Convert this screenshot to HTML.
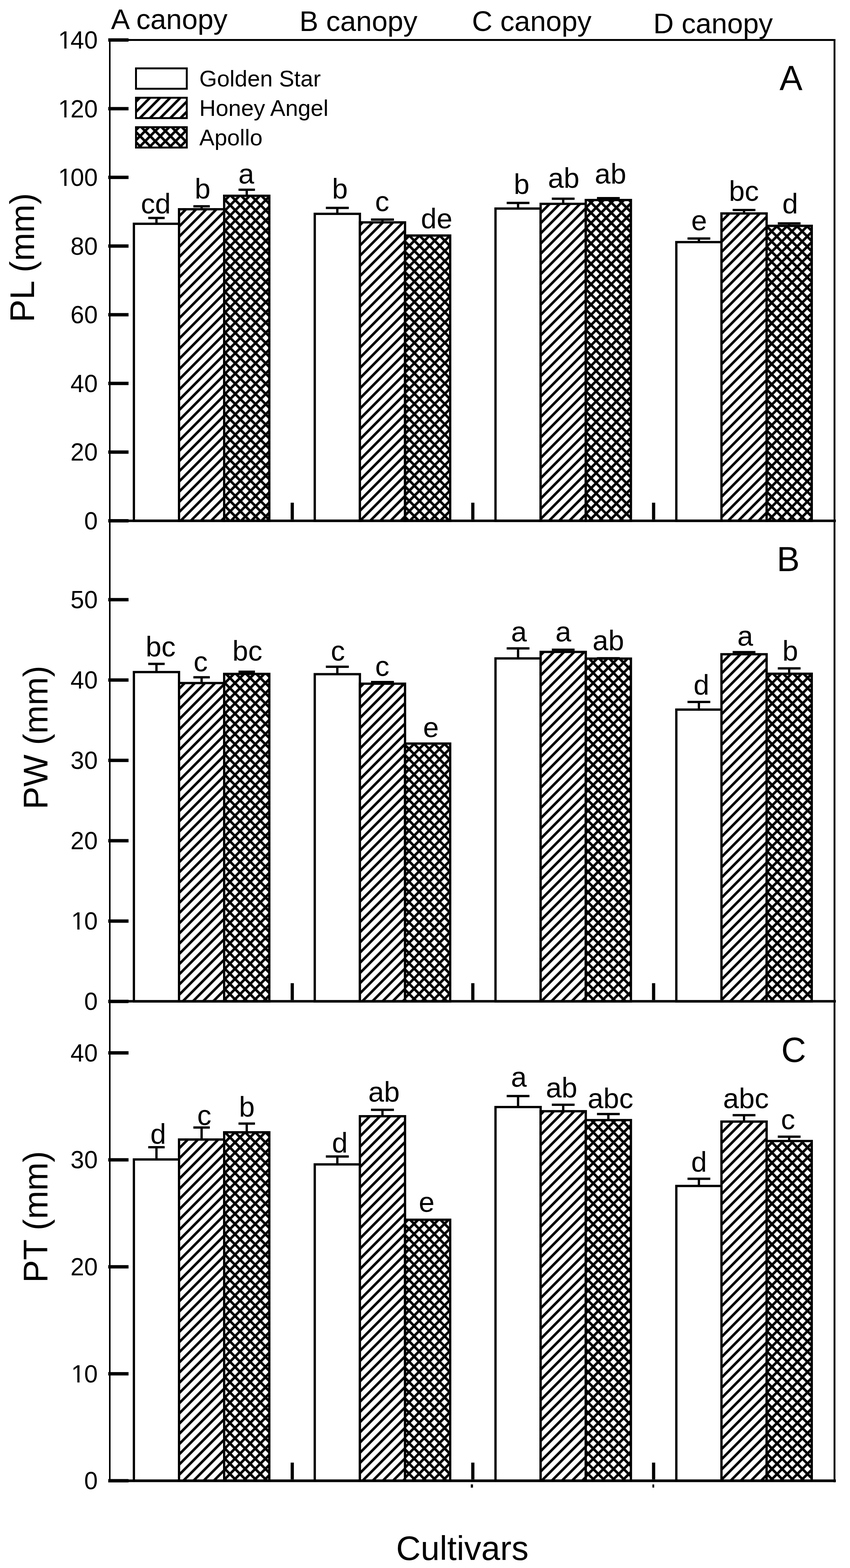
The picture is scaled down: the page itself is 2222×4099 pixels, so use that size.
<!DOCTYPE html>
<html><head><meta charset="utf-8"><title>Bar chart</title>
<style>html,body{margin:0;padding:0;background:#fff}svg{display:block}text{font-family:'Liberation Sans',Arial,sans-serif;fill:#000}</style>
</head><body>
<svg width="2222" height="4099" viewBox="0 0 2222 4099">
<defs>
<pattern id="hA0" patternUnits="userSpaceOnUse" x="22.94" y="0" width="26.5" height="26.67"><path d="M-13.250,13.335L13.250,-13.335M0,26.67L26.5,0M13.250,40.005L39.750,13.335" stroke="#000" stroke-width="6.65" fill="none"/></pattern>
<pattern id="hA1" patternUnits="userSpaceOnUse" x="15.04" y="0" width="26.5" height="26.67"><path d="M-13.250,13.335L13.250,-13.335M0,26.67L26.5,0M13.250,40.005L39.750,13.335" stroke="#000" stroke-width="6.65" fill="none"/></pattern>
<pattern id="hA2" patternUnits="userSpaceOnUse" x="5.54" y="0" width="26.5" height="26.67"><path d="M-13.250,13.335L13.250,-13.335M0,26.67L26.5,0M13.250,40.005L39.750,13.335" stroke="#000" stroke-width="6.65" fill="none"/></pattern>
<pattern id="hA3" patternUnits="userSpaceOnUse" x="23.14" y="0" width="26.5" height="26.67"><path d="M-13.250,13.335L13.250,-13.335M0,26.67L26.5,0M13.250,40.005L39.750,13.335" stroke="#000" stroke-width="6.65" fill="none"/></pattern>
<pattern id="hB0" patternUnits="userSpaceOnUse" x="4.75" y="0" width="26.5" height="26.67"><path d="M-13.250,13.335L13.250,-13.335M0,26.67L26.5,0M13.250,40.005L39.750,13.335" stroke="#000" stroke-width="6.65" fill="none"/></pattern>
<pattern id="hB1" patternUnits="userSpaceOnUse" x="23.35" y="0" width="26.5" height="26.67"><path d="M-13.250,13.335L13.250,-13.335M0,26.67L26.5,0M13.250,40.005L39.750,13.335" stroke="#000" stroke-width="6.65" fill="none"/></pattern>
<pattern id="hB2" patternUnits="userSpaceOnUse" x="14.35" y="0" width="26.5" height="26.67"><path d="M-13.250,13.335L13.250,-13.335M0,26.67L26.5,0M13.250,40.005L39.750,13.335" stroke="#000" stroke-width="6.65" fill="none"/></pattern>
<pattern id="hB3" patternUnits="userSpaceOnUse" x="4.85" y="0" width="26.5" height="26.67"><path d="M-13.250,13.335L13.250,-13.335M0,26.67L26.5,0M13.250,40.005L39.750,13.335" stroke="#000" stroke-width="6.65" fill="none"/></pattern>
<pattern id="hC0" patternUnits="userSpaceOnUse" x="6.03" y="0" width="26.5" height="26.67"><path d="M-13.250,13.335L13.250,-13.335M0,26.67L26.5,0M13.250,40.005L39.750,13.335" stroke="#000" stroke-width="6.65" fill="none"/></pattern>
<pattern id="hC1" patternUnits="userSpaceOnUse" x="23.97" y="0" width="26.5" height="26.67"><path d="M-13.250,13.335L13.250,-13.335M0,26.67L26.5,0M13.250,40.005L39.750,13.335" stroke="#000" stroke-width="6.65" fill="none"/></pattern>
<pattern id="hC2" patternUnits="userSpaceOnUse" x="15.07" y="0" width="26.5" height="26.67"><path d="M-13.250,13.335L13.250,-13.335M0,26.67L26.5,0M13.250,40.005L39.750,13.335" stroke="#000" stroke-width="6.65" fill="none"/></pattern>
<pattern id="hC3" patternUnits="userSpaceOnUse" x="5.57" y="0" width="26.5" height="26.67"><path d="M-13.250,13.335L13.250,-13.335M0,26.67L26.5,0M13.250,40.005L39.750,13.335" stroke="#000" stroke-width="6.65" fill="none"/></pattern>
<pattern id="hL0" patternUnits="userSpaceOnUse" x="9.98" y="0" width="26.5" height="26.67"><path d="M-13.250,13.335L13.250,-13.335M0,26.67L26.5,0M13.250,40.005L39.750,13.335" stroke="#000" stroke-width="6.65" fill="none"/></pattern>
<pattern id="sA0" patternUnits="userSpaceOnUse" x="21.93" y="0" width="26.5" height="26.67"><path d="M-13.250,13.335L13.250,-13.335M0,26.67L26.5,0M13.250,40.005L39.750,13.335" stroke="#000" stroke-width="6.65" fill="none"/></pattern>
<pattern id="bA0" patternUnits="userSpaceOnUse" x="15.77" y="0" width="26.5" height="26.67"><path d="M-13.250,13.335L13.250,40.005M0,0L26.5,26.67M13.250,-13.335L39.750,13.335" stroke="#000" stroke-width="6.65" fill="none"/></pattern>
<pattern id="sA1" patternUnits="userSpaceOnUse" x="12.53" y="0" width="26.5" height="26.67"><path d="M-13.250,13.335L13.250,-13.335M0,26.67L26.5,0M13.250,40.005L39.750,13.335" stroke="#000" stroke-width="6.65" fill="none"/></pattern>
<pattern id="bA1" patternUnits="userSpaceOnUse" x="7.47" y="0" width="26.5" height="26.67"><path d="M-13.250,13.335L13.250,40.005M0,0L26.5,26.67M13.250,-13.335L39.750,13.335" stroke="#000" stroke-width="6.65" fill="none"/></pattern>
<pattern id="sA2" patternUnits="userSpaceOnUse" x="4.28" y="0" width="26.5" height="26.67"><path d="M-13.250,13.335L13.250,-13.335M0,26.67L26.5,0M13.250,40.005L39.750,13.335" stroke="#000" stroke-width="6.65" fill="none"/></pattern>
<pattern id="bA2" patternUnits="userSpaceOnUse" x="11.82" y="0" width="26.5" height="26.67"><path d="M-13.250,13.335L13.250,40.005M0,0L26.5,26.67M13.250,-13.335L39.750,13.335" stroke="#000" stroke-width="6.65" fill="none"/></pattern>
<pattern id="sA3" patternUnits="userSpaceOnUse" x="21.31" y="0" width="26.5" height="26.67"><path d="M-13.250,13.335L13.250,-13.335M0,26.67L26.5,0M13.250,40.005L39.750,13.335" stroke="#000" stroke-width="6.65" fill="none"/></pattern>
<pattern id="bA3" patternUnits="userSpaceOnUse" x="11.89" y="0" width="26.5" height="26.67"><path d="M-13.250,13.335L13.250,40.005M0,0L26.5,26.67M13.250,-13.335L39.750,13.335" stroke="#000" stroke-width="6.65" fill="none"/></pattern>
<pattern id="sB0" patternUnits="userSpaceOnUse" x="3.52" y="0" width="26.5" height="26.67"><path d="M-13.250,13.335L13.250,-13.335M0,26.67L26.5,0M13.250,40.005L39.750,13.335" stroke="#000" stroke-width="6.65" fill="none"/></pattern>
<pattern id="bB0" patternUnits="userSpaceOnUse" x="6.08" y="0" width="26.5" height="26.67"><path d="M-13.250,13.335L13.250,40.005M0,0L26.5,26.67M13.250,-13.335L39.750,13.335" stroke="#000" stroke-width="6.65" fill="none"/></pattern>
<pattern id="sB1" patternUnits="userSpaceOnUse" x="20.27" y="0" width="26.5" height="26.67"><path d="M-13.250,13.335L13.250,-13.335M0,26.67L26.5,0M13.250,40.005L39.750,13.335" stroke="#000" stroke-width="6.65" fill="none"/></pattern>
<pattern id="bB1" patternUnits="userSpaceOnUse" x="24.73" y="0" width="26.5" height="26.67"><path d="M-13.250,13.335L13.250,40.005M0,0L26.5,26.67M13.250,-13.335L39.750,13.335" stroke="#000" stroke-width="6.65" fill="none"/></pattern>
<pattern id="sB2" patternUnits="userSpaceOnUse" x="12.32" y="0" width="26.5" height="26.67"><path d="M-13.250,13.335L13.250,-13.335M0,26.67L26.5,0M13.250,40.005L39.750,13.335" stroke="#000" stroke-width="6.65" fill="none"/></pattern>
<pattern id="bB2" patternUnits="userSpaceOnUse" x="14.88" y="0" width="26.5" height="26.67"><path d="M-13.250,13.335L13.250,40.005M0,0L26.5,26.67M13.250,-13.335L39.750,13.335" stroke="#000" stroke-width="6.65" fill="none"/></pattern>
<pattern id="sB3" patternUnits="userSpaceOnUse" x="3.32" y="0" width="26.5" height="26.67"><path d="M-13.250,13.335L13.250,-13.335M0,26.67L26.5,0M13.250,40.005L39.750,13.335" stroke="#000" stroke-width="6.65" fill="none"/></pattern>
<pattern id="bB3" patternUnits="userSpaceOnUse" x="5.88" y="0" width="26.5" height="26.67"><path d="M-13.250,13.335L13.250,40.005M0,0L26.5,26.67M13.250,-13.335L39.750,13.335" stroke="#000" stroke-width="6.65" fill="none"/></pattern>
<pattern id="sC0" patternUnits="userSpaceOnUse" x="4.21" y="0" width="26.5" height="26.67"><path d="M-13.250,13.335L13.250,-13.335M0,26.67L26.5,0M13.250,40.005L39.750,13.335" stroke="#000" stroke-width="6.65" fill="none"/></pattern>
<pattern id="bC0" patternUnits="userSpaceOnUse" x="5.39" y="0" width="26.5" height="26.67"><path d="M-13.250,13.335L13.250,40.005M0,0L26.5,26.67M13.250,-13.335L39.750,13.335" stroke="#000" stroke-width="6.65" fill="none"/></pattern>
<pattern id="sC1" patternUnits="userSpaceOnUse" x="21.39" y="0" width="26.5" height="26.67"><path d="M-13.250,13.335L13.250,-13.335M0,26.67L26.5,0M13.250,40.005L39.750,13.335" stroke="#000" stroke-width="6.65" fill="none"/></pattern>
<pattern id="bC1" patternUnits="userSpaceOnUse" x="23.61" y="0" width="26.5" height="26.67"><path d="M-13.250,13.335L13.250,40.005M0,0L26.5,26.67M13.250,-13.335L39.750,13.335" stroke="#000" stroke-width="6.65" fill="none"/></pattern>
<pattern id="sC2" patternUnits="userSpaceOnUse" x="13.59" y="0" width="26.5" height="26.67"><path d="M-13.250,13.335L13.250,-13.335M0,26.67L26.5,0M13.250,40.005L39.750,13.335" stroke="#000" stroke-width="6.65" fill="none"/></pattern>
<pattern id="bC2" patternUnits="userSpaceOnUse" x="14.21" y="0" width="26.5" height="26.67"><path d="M-13.250,13.335L13.250,40.005M0,0L26.5,26.67M13.250,-13.335L39.750,13.335" stroke="#000" stroke-width="6.65" fill="none"/></pattern>
<pattern id="sC3" patternUnits="userSpaceOnUse" x="3.59" y="0" width="26.5" height="26.67"><path d="M-13.250,13.335L13.250,-13.335M0,26.67L26.5,0M13.250,40.005L39.750,13.335" stroke="#000" stroke-width="6.65" fill="none"/></pattern>
<pattern id="bC3" patternUnits="userSpaceOnUse" x="4.61" y="0" width="26.5" height="26.67"><path d="M-13.250,13.335L13.250,40.005M0,0L26.5,26.67M13.250,-13.335L39.750,13.335" stroke="#000" stroke-width="6.65" fill="none"/></pattern>
<pattern id="sL0" patternUnits="userSpaceOnUse" x="4.18" y="0" width="26.5" height="26.67"><path d="M-13.250,13.335L13.250,-13.335M0,26.67L26.5,0M13.250,40.005L39.750,13.335" stroke="#000" stroke-width="6.65" fill="none"/></pattern>
<pattern id="bL0" patternUnits="userSpaceOnUse" x="12.62" y="0" width="26.5" height="26.67"><path d="M-13.250,13.335L13.250,40.005M0,0L26.5,26.67M13.250,-13.335L39.750,13.335" stroke="#000" stroke-width="6.65" fill="none"/></pattern>
</defs>
<rect width="2222" height="4099" fill="#fff"/>

<rect x="350.0" y="585" width="118.0" height="776.40" fill="#fff"/>
<rect x="350.0" y="585" width="118.0" height="776.40" fill="none" stroke="#000" stroke-width="6"/>
<path d="M409.0,585V569.7M387.5,569.7H430.5" stroke="#000" stroke-width="6" fill="none"/>
<text x="368.34" y="557.60" font-size="74" text-anchor="start">cd</text>
<rect x="468.0" y="547" width="118.0" height="814.40" fill="#fff"/>
<rect x="468.0" y="547" width="118.0" height="814.40" fill="url(#hA0)"/>
<rect x="468.0" y="547" width="118.0" height="814.40" fill="none" stroke="#000" stroke-width="6"/>
<path d="M527.0,547V539.2M505.5,539.2H548.5" stroke="#000" stroke-width="6" fill="none"/>
<text x="509.09" y="519.00" font-size="74" text-anchor="start">b</text>
<rect x="586.0" y="511.8" width="118.0" height="849.60" fill="#fff"/>
<rect x="586.0" y="511.8" width="118.0" height="849.60" fill="url(#sA0)"/>
<rect x="586.0" y="511.8" width="118.0" height="849.60" fill="url(#bA0)"/>
<rect x="586.0" y="511.8" width="118.0" height="849.60" fill="none" stroke="#000" stroke-width="6"/>
<path d="M645.0,511.8V496.1M623.5,496.1H666.5" stroke="#000" stroke-width="6" fill="none"/>
<text x="623.15" y="479.50" font-size="74" text-anchor="start">a</text>
<rect x="822.8" y="559" width="118.0" height="802.40" fill="#fff"/>
<rect x="822.8" y="559" width="118.0" height="802.40" fill="none" stroke="#000" stroke-width="6"/>
<path d="M881.8,559V543.5M851.8,543.5H911.8" stroke="#000" stroke-width="6" fill="none"/>
<text x="868.09" y="518.80" font-size="74" text-anchor="start">b</text>
<rect x="940.8" y="581.3" width="118.0" height="780.10" fill="#fff"/>
<rect x="940.8" y="581.3" width="118.0" height="780.10" fill="url(#hA1)"/>
<rect x="940.8" y="581.3" width="118.0" height="780.10" fill="none" stroke="#000" stroke-width="6"/>
<path d="M999.8,581.3V574M969.8,574H1029.8" stroke="#000" stroke-width="6" fill="none"/>
<text x="980.60" y="551.50" font-size="74" text-anchor="start">c</text>
<rect x="1058.8" y="615.7" width="118.0" height="745.70" fill="#fff"/>
<rect x="1058.8" y="615.7" width="118.0" height="745.70" fill="url(#sA1)"/>
<rect x="1058.8" y="615.7" width="118.0" height="745.70" fill="url(#bA1)"/>
<rect x="1058.8" y="615.7" width="118.0" height="745.70" fill="none" stroke="#000" stroke-width="6"/>
<text x="1100.24" y="597.00" font-size="74" text-anchor="start">de</text>
<rect x="1295.3" y="545.2" width="118.0" height="816.20" fill="#fff"/>
<rect x="1295.3" y="545.2" width="118.0" height="816.20" fill="none" stroke="#000" stroke-width="6"/>
<path d="M1354.3,545.2V530.6M1324.55,530.6H1384.05" stroke="#000" stroke-width="6" fill="none"/>
<text x="1342.89" y="507.40" font-size="74" text-anchor="start">b</text>
<rect x="1413.3" y="532.9" width="118.0" height="828.50" fill="#fff"/>
<rect x="1413.3" y="532.9" width="118.0" height="828.50" fill="url(#hA2)"/>
<rect x="1413.3" y="532.9" width="118.0" height="828.50" fill="none" stroke="#000" stroke-width="6"/>
<path d="M1472.3,532.9V519.5M1442.55,519.5H1502.05" stroke="#000" stroke-width="6" fill="none"/>
<text x="1432.38" y="491.10" font-size="74" text-anchor="start">ab</text>
<rect x="1531.3" y="522.9" width="118.0" height="838.50" fill="#fff"/>
<rect x="1531.3" y="522.9" width="118.0" height="838.50" fill="url(#sA2)"/>
<rect x="1531.3" y="522.9" width="118.0" height="838.50" fill="url(#bA2)"/>
<rect x="1531.3" y="522.9" width="118.0" height="838.50" fill="none" stroke="#000" stroke-width="6"/>
<path d="M1590.3,522.9V518M1560.55,518H1620.05" stroke="#000" stroke-width="6" fill="none"/>
<text x="1554.78" y="480.20" font-size="74" text-anchor="start">ab</text>
<rect x="1768.0" y="632.9" width="118.0" height="728.50" fill="#fff"/>
<rect x="1768.0" y="632.9" width="118.0" height="728.50" fill="none" stroke="#000" stroke-width="6"/>
<path d="M1827.0,632.9V623.4M1797.25,623.4H1856.75" stroke="#000" stroke-width="6" fill="none"/>
<text x="1806.89" y="601.50" font-size="74" text-anchor="start">e</text>
<rect x="1886.0" y="558" width="118.0" height="803.40" fill="#fff"/>
<rect x="1886.0" y="558" width="118.0" height="803.40" fill="url(#hA3)"/>
<rect x="1886.0" y="558" width="118.0" height="803.40" fill="none" stroke="#000" stroke-width="6"/>
<path d="M1945.0,558V548.9M1915.25,548.9H1974.75" stroke="#000" stroke-width="6" fill="none"/>
<text x="1905.51" y="524.50" font-size="74" text-anchor="start">bc</text>
<rect x="2004.0" y="590.4" width="118.0" height="771.00" fill="#fff"/>
<rect x="2004.0" y="590.4" width="118.0" height="771.00" fill="url(#sA3)"/>
<rect x="2004.0" y="590.4" width="118.0" height="771.00" fill="url(#bA3)"/>
<rect x="2004.0" y="590.4" width="118.0" height="771.00" fill="none" stroke="#000" stroke-width="6"/>
<path d="M2063.0,590.4V583.9M2033.25,583.9H2092.75" stroke="#000" stroke-width="6" fill="none"/>
<text x="2045.00" y="558.00" font-size="74" text-anchor="start">d</text>
<rect x="350.0" y="1756.9" width="118.0" height="861.00" fill="#fff"/>
<rect x="350.0" y="1756.9" width="118.0" height="861.00" fill="none" stroke="#000" stroke-width="6"/>
<path d="M409.0,1756.9V1735.6M387.5,1735.6H430.5" stroke="#000" stroke-width="6" fill="none"/>
<text x="380.76" y="1715.90" font-size="74" text-anchor="start">bc</text>
<rect x="468.0" y="1785.6" width="118.0" height="832.30" fill="#fff"/>
<rect x="468.0" y="1785.6" width="118.0" height="832.30" fill="url(#hB0)"/>
<rect x="468.0" y="1785.6" width="118.0" height="832.30" fill="none" stroke="#000" stroke-width="6"/>
<path d="M527.0,1785.6V1770.4M505.5,1770.4H548.5" stroke="#000" stroke-width="6" fill="none"/>
<text x="506.00" y="1755.00" font-size="74" text-anchor="start">c</text>
<rect x="586.0" y="1761.7" width="118.0" height="856.20" fill="#fff"/>
<rect x="586.0" y="1761.7" width="118.0" height="856.20" fill="url(#sB0)"/>
<rect x="586.0" y="1761.7" width="118.0" height="856.20" fill="url(#bB0)"/>
<rect x="586.0" y="1761.7" width="118.0" height="856.20" fill="none" stroke="#000" stroke-width="6"/>
<path d="M645.0,1761.7V1756M623.5,1756H666.5" stroke="#000" stroke-width="6" fill="none"/>
<text x="607.56" y="1726.50" font-size="74" text-anchor="start">bc</text>
<rect x="822.8" y="1762.4" width="118.0" height="855.50" fill="#fff"/>
<rect x="822.8" y="1762.4" width="118.0" height="855.50" fill="none" stroke="#000" stroke-width="6"/>
<path d="M881.8,1762.4V1742.9M851.8,1742.9H911.8" stroke="#000" stroke-width="6" fill="none"/>
<text x="864.75" y="1726.50" font-size="74" text-anchor="start">c</text>
<rect x="940.8" y="1787.3" width="118.0" height="830.60" fill="#fff"/>
<rect x="940.8" y="1787.3" width="118.0" height="830.60" fill="url(#hB1)"/>
<rect x="940.8" y="1787.3" width="118.0" height="830.60" fill="none" stroke="#000" stroke-width="6"/>
<path d="M999.8,1787.3V1783M969.8,1783H1029.8" stroke="#000" stroke-width="6" fill="none"/>
<text x="980.75" y="1767.20" font-size="74" text-anchor="start">c</text>
<rect x="1058.8" y="1943.8" width="118.0" height="674.10" fill="#fff"/>
<rect x="1058.8" y="1943.8" width="118.0" height="674.10" fill="url(#sB1)"/>
<rect x="1058.8" y="1943.8" width="118.0" height="674.10" fill="url(#bB1)"/>
<rect x="1058.8" y="1943.8" width="118.0" height="674.10" fill="none" stroke="#000" stroke-width="6"/>
<text x="1106.09" y="1927.00" font-size="74" text-anchor="start">e</text>
<rect x="1295.3" y="1721.2" width="118.0" height="896.70" fill="#fff"/>
<rect x="1295.3" y="1721.2" width="118.0" height="896.70" fill="none" stroke="#000" stroke-width="6"/>
<path d="M1354.3,1721.2V1695M1324.55,1695H1384.05" stroke="#000" stroke-width="6" fill="none"/>
<text x="1335.95" y="1676.50" font-size="74" text-anchor="start">a</text>
<rect x="1413.3" y="1704.2" width="118.0" height="913.70" fill="#fff"/>
<rect x="1413.3" y="1704.2" width="118.0" height="913.70" fill="url(#hB2)"/>
<rect x="1413.3" y="1704.2" width="118.0" height="913.70" fill="none" stroke="#000" stroke-width="6"/>
<path d="M1472.3,1704.2V1698.5M1442.55,1698.5H1502.05" stroke="#000" stroke-width="6" fill="none"/>
<text x="1452.00" y="1676.50" font-size="74" text-anchor="start">a</text>
<rect x="1531.3" y="1721.7" width="118.0" height="896.20" fill="#fff"/>
<rect x="1531.3" y="1721.7" width="118.0" height="896.20" fill="url(#sB2)"/>
<rect x="1531.3" y="1721.7" width="118.0" height="896.20" fill="url(#bB2)"/>
<rect x="1531.3" y="1721.7" width="118.0" height="896.20" fill="none" stroke="#000" stroke-width="6"/>
<path d="M1590.3,1721.7V1720.7M1560.55,1720.7H1620.05" stroke="#000" stroke-width="6" fill="none"/>
<text x="1549.03" y="1700.20" font-size="74" text-anchor="start">ab</text>
<rect x="1768.0" y="1855" width="118.0" height="762.90" fill="#fff"/>
<rect x="1768.0" y="1855" width="118.0" height="762.90" fill="none" stroke="#000" stroke-width="6"/>
<path d="M1827.0,1855V1834.9M1797.25,1834.9H1856.75" stroke="#000" stroke-width="6" fill="none"/>
<text x="1812.95" y="1816.30" font-size="74" text-anchor="start">d</text>
<rect x="1886.0" y="1710.3" width="118.0" height="907.60" fill="#fff"/>
<rect x="1886.0" y="1710.3" width="118.0" height="907.60" fill="url(#hB3)"/>
<rect x="1886.0" y="1710.3" width="118.0" height="907.60" fill="none" stroke="#000" stroke-width="6"/>
<path d="M1945.0,1710.3V1704.8M1915.25,1704.8H1974.75" stroke="#000" stroke-width="6" fill="none"/>
<text x="1927.45" y="1688.00" font-size="74" text-anchor="start">a</text>
<rect x="2004.0" y="1761.3" width="118.0" height="856.60" fill="#fff"/>
<rect x="2004.0" y="1761.3" width="118.0" height="856.60" fill="url(#sB3)"/>
<rect x="2004.0" y="1761.3" width="118.0" height="856.60" fill="url(#bB3)"/>
<rect x="2004.0" y="1761.3" width="118.0" height="856.60" fill="none" stroke="#000" stroke-width="6"/>
<path d="M2063.0,1761.3V1747.3M2033.25,1747.3H2092.75" stroke="#000" stroke-width="6" fill="none"/>
<text x="2045.24" y="1726.60" font-size="74" text-anchor="start">b</text>
<rect x="350.0" y="3031" width="118.0" height="839.90" fill="#fff"/>
<rect x="350.0" y="3031" width="118.0" height="839.90" fill="none" stroke="#000" stroke-width="6"/>
<path d="M409.0,3031V2999.1M387.5,2999.1H430.5" stroke="#000" stroke-width="6" fill="none"/>
<text x="392.90" y="2990.30" font-size="74" text-anchor="start">d</text>
<rect x="468.0" y="2978.9" width="118.0" height="892.00" fill="#fff"/>
<rect x="468.0" y="2978.9" width="118.0" height="892.00" fill="url(#hC0)"/>
<rect x="468.0" y="2978.9" width="118.0" height="892.00" fill="none" stroke="#000" stroke-width="6"/>
<path d="M527.0,2978.9V2947.4M505.5,2947.4H548.5" stroke="#000" stroke-width="6" fill="none"/>
<text x="515.50" y="2940.80" font-size="74" text-anchor="start">c</text>
<rect x="586.0" y="2960" width="118.0" height="910.90" fill="#fff"/>
<rect x="586.0" y="2960" width="118.0" height="910.90" fill="url(#sC0)"/>
<rect x="586.0" y="2960" width="118.0" height="910.90" fill="url(#bC0)"/>
<rect x="586.0" y="2960" width="118.0" height="910.90" fill="none" stroke="#000" stroke-width="6"/>
<path d="M645.0,2960V2937.3M623.5,2937.3H666.5" stroke="#000" stroke-width="6" fill="none"/>
<text x="624.64" y="2919.00" font-size="74" text-anchor="start">b</text>
<rect x="822.8" y="3043.9" width="118.0" height="827.00" fill="#fff"/>
<rect x="822.8" y="3043.9" width="118.0" height="827.00" fill="none" stroke="#000" stroke-width="6"/>
<path d="M881.8,3043.9V3023.3M851.8,3023.3H911.8" stroke="#000" stroke-width="6" fill="none"/>
<text x="867.65" y="3012.60" font-size="74" text-anchor="start">d</text>
<rect x="940.8" y="2918" width="118.0" height="952.90" fill="#fff"/>
<rect x="940.8" y="2918" width="118.0" height="952.90" fill="url(#hC1)"/>
<rect x="940.8" y="2918" width="118.0" height="952.90" fill="none" stroke="#000" stroke-width="6"/>
<path d="M999.8,2918V2901.2M969.8,2901.2H1029.8" stroke="#000" stroke-width="6" fill="none"/>
<text x="962.68" y="2880.20" font-size="74" text-anchor="start">ab</text>
<rect x="1058.8" y="3188.6" width="118.0" height="682.30" fill="#fff"/>
<rect x="1058.8" y="3188.6" width="118.0" height="682.30" fill="url(#sC1)"/>
<rect x="1058.8" y="3188.6" width="118.0" height="682.30" fill="url(#bC1)"/>
<rect x="1058.8" y="3188.6" width="118.0" height="682.30" fill="none" stroke="#000" stroke-width="6"/>
<text x="1094.79" y="3168.30" font-size="74" text-anchor="start">e</text>
<rect x="1295.3" y="2894" width="118.0" height="976.90" fill="#fff"/>
<rect x="1295.3" y="2894" width="118.0" height="976.90" fill="none" stroke="#000" stroke-width="6"/>
<path d="M1354.3,2894V2865.2M1324.55,2865.2H1384.05" stroke="#000" stroke-width="6" fill="none"/>
<text x="1335.65" y="2840.70" font-size="74" text-anchor="start">a</text>
<rect x="1413.3" y="2904.9" width="118.0" height="966.00" fill="#fff"/>
<rect x="1413.3" y="2904.9" width="118.0" height="966.00" fill="url(#hC2)"/>
<rect x="1413.3" y="2904.9" width="118.0" height="966.00" fill="none" stroke="#000" stroke-width="6"/>
<path d="M1472.3,2904.9V2888.1M1442.55,2888.1H1502.05" stroke="#000" stroke-width="6" fill="none"/>
<text x="1426.98" y="2868.80" font-size="74" text-anchor="start">ab</text>
<rect x="1531.3" y="2928.1" width="118.0" height="942.80" fill="#fff"/>
<rect x="1531.3" y="2928.1" width="118.0" height="942.80" fill="url(#sC2)"/>
<rect x="1531.3" y="2928.1" width="118.0" height="942.80" fill="url(#bC2)"/>
<rect x="1531.3" y="2928.1" width="118.0" height="942.80" fill="none" stroke="#000" stroke-width="6"/>
<path d="M1590.3,2928.1V2912.2M1560.55,2912.2H1620.05" stroke="#000" stroke-width="6" fill="none"/>
<text x="1536.15" y="2896.80" font-size="74" text-anchor="start">abc</text>
<rect x="1768.0" y="3100.3" width="118.0" height="770.60" fill="#fff"/>
<rect x="1768.0" y="3100.3" width="118.0" height="770.60" fill="none" stroke="#000" stroke-width="6"/>
<path d="M1827.0,3100.3V3081.5M1797.25,3081.5H1856.75" stroke="#000" stroke-width="6" fill="none"/>
<text x="1806.65" y="3063.10" font-size="74" text-anchor="start">d</text>
<rect x="1886.0" y="2932" width="118.0" height="938.90" fill="#fff"/>
<rect x="1886.0" y="2932" width="118.0" height="938.90" fill="url(#hC3)"/>
<rect x="1886.0" y="2932" width="118.0" height="938.90" fill="none" stroke="#000" stroke-width="6"/>
<path d="M1945.0,2932V2915.2M1915.25,2915.2H1974.75" stroke="#000" stroke-width="6" fill="none"/>
<text x="1890.35" y="2896.70" font-size="74" text-anchor="start">abc</text>
<rect x="2004.0" y="2982.8" width="118.0" height="888.10" fill="#fff"/>
<rect x="2004.0" y="2982.8" width="118.0" height="888.10" fill="url(#sC3)"/>
<rect x="2004.0" y="2982.8" width="118.0" height="888.10" fill="url(#bC3)"/>
<rect x="2004.0" y="2982.8" width="118.0" height="888.10" fill="none" stroke="#000" stroke-width="6"/>
<path d="M2063.0,2982.8V2971.6M2033.25,2971.6H2092.75" stroke="#000" stroke-width="6" fill="none"/>
<text x="2041.50" y="2951.50" font-size="74" text-anchor="start">c</text>
<path d="M285,104.45H2184" stroke="#000" stroke-width="4.9"/>
<path d="M2181.5,102V3875" stroke="#000" stroke-width="4.8"/>
<path d="M287,102V3875" stroke="#000" stroke-width="4"/>
<path d="M283,1361.5H2185" stroke="#000" stroke-width="6.7"/>
<rect x="759.8" y="1314.15" width="8.4" height="44" fill="#000"/>
<rect x="1231.8" y="1314.15" width="8.4" height="44" fill="#000"/>
<rect x="1704.3999999999999" y="1314.15" width="8.4" height="44" fill="#000"/>
<path d="M283,2617.5H2185" stroke="#000" stroke-width="6.6"/>
<rect x="759.8" y="2570.2" width="8.4" height="44" fill="#000"/>
<rect x="1231.8" y="2570.2" width="8.4" height="44" fill="#000"/>
<rect x="1704.3999999999999" y="2570.2" width="8.4" height="44" fill="#000"/>
<path d="M283,3871H2185" stroke="#000" stroke-width="7"/>
<rect x="759.8" y="3823.5" width="8.4" height="44" fill="#000"/>
<rect x="1231.8" y="3823.5" width="8.4" height="44" fill="#000"/>
<rect x="1704.3999999999999" y="3823.5" width="8.4" height="44" fill="#000"/>
<rect x="1230.7" y="3880.4" width="5.7" height="8.5" fill="#000"/>
<rect x="1705.5" y="3880.5" width="4.6" height="8.3" fill="#000"/>
<rect x="283" y="1357.00" width="53" height="8.8" fill="#000"/>
<text x="219.91" y="1383.80" font-size="64" text-anchor="start">0</text>
<rect x="283" y="1177.45" width="53" height="8.8" fill="#000"/>
<text x="184.31" y="1204.25" font-size="64" text-anchor="start">20</text>
<rect x="283" y="997.90" width="53" height="8.8" fill="#000"/>
<text x="184.31" y="1024.70" font-size="64" text-anchor="start">40</text>
<rect x="283" y="818.35" width="53" height="8.8" fill="#000"/>
<text x="184.31" y="845.15" font-size="64" text-anchor="start">60</text>
<rect x="283" y="638.80" width="53" height="8.8" fill="#000"/>
<text x="184.31" y="665.60" font-size="64" text-anchor="start">80</text>
<rect x="283" y="459.25" width="53" height="8.8" fill="#000"/>
<text x="148.72" y="486.05" font-size="64"><tspan dx="3.36">1</tspan><tspan dx="-3.36">00</tspan></text>
<rect x="154.77" y="480.67" width="13.41" height="6.18" fill="#fff"/>
<rect x="173.83" y="480.67" width="12.11" height="6.18" fill="#fff"/>
<rect x="283" y="279.70" width="53" height="8.8" fill="#000"/>
<text x="148.72" y="306.50" font-size="64"><tspan dx="3.36">1</tspan><tspan dx="-3.36">20</tspan></text>
<rect x="154.77" y="301.12" width="13.41" height="6.18" fill="#fff"/>
<rect x="173.83" y="301.12" width="12.11" height="6.18" fill="#fff"/>
<rect x="283" y="100.15" width="53" height="8.8" fill="#000"/>
<text x="148.72" y="126.95" font-size="64"><tspan dx="3.36">1</tspan><tspan dx="-3.36">40</tspan></text>
<rect x="154.77" y="121.57" width="13.41" height="6.18" fill="#fff"/>
<rect x="173.83" y="121.57" width="12.11" height="6.18" fill="#fff"/>
<rect x="283" y="2613.50" width="53" height="8.8" fill="#000"/>
<text x="219.91" y="2640.30" font-size="64" text-anchor="start">0</text>
<rect x="283" y="2403.45" width="53" height="8.8" fill="#000"/>
<text x="184.31" y="2430.25" font-size="64"><tspan dx="1.8">1</tspan><tspan dx="-1.8">0</tspan></text>
<rect x="188.80" y="2424.87" width="13.41" height="6.18" fill="#fff"/>
<rect x="207.86" y="2424.87" width="12.11" height="6.18" fill="#fff"/>
<rect x="283" y="2193.40" width="53" height="8.8" fill="#000"/>
<text x="184.31" y="2220.20" font-size="64" text-anchor="start">20</text>
<rect x="283" y="1983.35" width="53" height="8.8" fill="#000"/>
<text x="184.31" y="2010.15" font-size="64" text-anchor="start">30</text>
<rect x="283" y="1773.30" width="53" height="8.8" fill="#000"/>
<text x="184.31" y="1800.10" font-size="64" text-anchor="start">40</text>
<rect x="283" y="1563.25" width="53" height="8.8" fill="#000"/>
<text x="184.31" y="1590.05" font-size="64" text-anchor="start">50</text>
<rect x="283" y="3866.50" width="53" height="8.8" fill="#000"/>
<text x="219.91" y="3893.30" font-size="64" text-anchor="start">0</text>
<rect x="283" y="3586.87" width="53" height="8.8" fill="#000"/>
<text x="184.31" y="3613.67" font-size="64"><tspan dx="1.8">1</tspan><tspan dx="-1.8">0</tspan></text>
<rect x="188.80" y="3608.29" width="13.41" height="6.18" fill="#fff"/>
<rect x="207.86" y="3608.29" width="12.11" height="6.18" fill="#fff"/>
<rect x="283" y="3307.24" width="53" height="8.8" fill="#000"/>
<text x="184.31" y="3334.04" font-size="64" text-anchor="start">20</text>
<rect x="283" y="3027.61" width="53" height="8.8" fill="#000"/>
<text x="184.31" y="3054.41" font-size="64" text-anchor="start">30</text>
<rect x="283" y="2747.98" width="53" height="8.8" fill="#000"/>
<text x="184.31" y="2774.78" font-size="64" text-anchor="start">40</text>
<rect x="355.5" y="178.75" width="132.75" height="53.25" fill="#fff"/>
<rect x="355.5" y="178.75" width="132.75" height="53.25" fill="none" stroke="#000" stroke-width="5"/>
<rect x="355.5" y="255.5" width="132.75" height="53.25" fill="#fff"/>
<rect x="355.5" y="255.5" width="132.75" height="53.25" fill="url(#hL0)"/>
<rect x="355.5" y="255.5" width="132.75" height="53.25" fill="none" stroke="#000" stroke-width="5"/>
<rect x="355.5" y="332.5" width="132.75" height="53.25" fill="#fff"/>
<rect x="355.5" y="332.5" width="132.75" height="53.25" fill="url(#sL0)"/>
<rect x="355.5" y="332.5" width="132.75" height="53.25" fill="url(#bL0)"/>
<rect x="355.5" y="332.5" width="132.75" height="53.25" fill="none" stroke="#000" stroke-width="5"/>
<text x="521.00" y="225.90" font-size="59.5" text-anchor="start">Golden Star</text>
<text x="521.00" y="302.70" font-size="59.5" text-anchor="start">Honey Angel</text>
<text x="521.00" y="379.80" font-size="59.5" text-anchor="start">Apollo</text>
<text x="290.36" y="75.75" font-size="74" text-anchor="start">A canopy</text>
<text x="782.68" y="81.25" font-size="74" text-anchor="start">B canopy</text>
<text x="1233.74" y="80.50" font-size="74" text-anchor="start">C canopy</text>
<text x="1707.68" y="87.00" font-size="74" text-anchor="start">D canopy</text>
<text x="2037.82" y="235.30" font-size="90" text-anchor="start">A</text>
<text x="2030.52" y="1493.00" font-size="90" text-anchor="start">B</text>
<text x="2042.13" y="2775.50" font-size="90" text-anchor="start">C</text>
<text x="0" y="0" font-size="89" transform="translate(89,842.46) rotate(-90)">PL (mm)</text>
<text x="0" y="0" font-size="89" transform="translate(124,2115.81) rotate(-90)">PW (mm)</text>
<text x="0" y="0" font-size="89" transform="translate(123.75,3353.29) rotate(-90)">PT (mm)</text>
<text x="1035.48" y="4078.00" font-size="89" text-anchor="start">Cultivars</text>
</svg></body></html>
